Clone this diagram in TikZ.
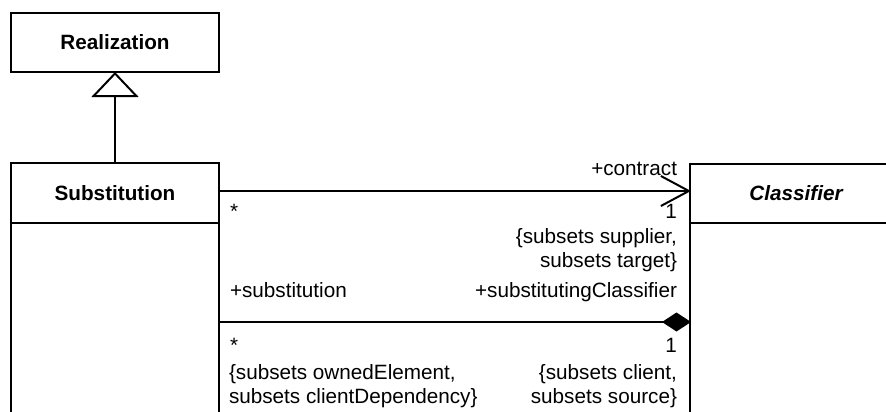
\documentclass[tikz,border=0pt]{standalone}
\usepackage{fontspec}
\setmainfont{Liberation Sans}
\usetikzlibrary{arrows.meta}
\begin{document}
\begin{tikzpicture}[x=1pt,y=-1pt,
  every node/.style={inner sep=0pt, outer sep=0pt},
  box/.style={draw, line width=2pt, rectangle, font=\fontsize{20.7}{24}\selectfont\bfseries},
  edge/.style={line width=2pt},
  lbl/.style={font=\fontsize{20.7}{24}\selectfont, align=left},
  rlbl/.style={font=\fontsize{20.7}{24}\selectfont, align=right},
  gen/.style={edge, -{Triangle[open, length=25pt, width=47pt, fill=white]}},
  navig/.style={edge, -{Straight Barb[length=28pt, width=30pt]}},
  compos/.style={edge, -{Diamond[length=29pt, width=19pt]}}
]
\useasboundingbox (0,0) rectangle (886,412);
\clip (0,0) rectangle (886,412);

% classes
\node[box, minimum width=208pt, minimum height=59pt] (real) at (115,42.5) {Realization};
\node[box, minimum width=208pt, minimum height=60pt] (subst) at (115,193) {Substitution};
\node[box, minimum width=212pt, minimum height=59pt] (clsf) at (796,193.5) {\itshape Classifier};

% class bodies (continue beyond the picture)
\coordinate (sbl) at (11,430);
\coordinate (sbr) at (219,430);
\coordinate (cbl) at (690,430);
\draw[edge] (subst.south west) -- (sbl);
\draw[edge] (subst.south east) -- (sbr);
\draw[edge] (clsf.south west) -- (cbl);

% generalization
\draw[gen] (subst.north) -- (real.south);

% association ends
\coordinate (a1) at (219,191);
\coordinate (b1) at (691,191);
\coordinate (a2) at (219,322);
\coordinate (b2) at (691,322);
\draw[navig] (a1) -- (b1);
\draw[compos] (a2) -- (b2);

% labels of the upper association
\node[rlbl, anchor=base east] (l1) at (677,175) {+contract};
\node[lbl, anchor=base west] (l2) at (230,218) {*};
\node[rlbl, anchor=base east] (l3) at (677,218) {1};
\node[rlbl, anchor=base east] (l4) at (677,243) {\{subsets supplier,};
\node[rlbl, anchor=base east] (l5) at (677,267) {subsets target\}};

% labels of the lower association
\node[lbl, anchor=base west] (m1) at (230,297) {+substitution};
\node[rlbl, anchor=base east] (m2) at (677,297) {+substitutingClassifier};
\node[lbl, anchor=base west] (m3) at (230,352) {*};
\node[rlbl, anchor=base east] (m4) at (677,352) {1};
\node[lbl, anchor=base west] (m5) at (229,379) {\{subsets ownedElement,};
\node[lbl, anchor=base west] (m6) at (229,403) {subsets clientDependency\}};
\node[rlbl, anchor=base east] (m7) at (677,379) {\{subsets client,};
\node[rlbl, anchor=base east] (m8) at (677,403) {subsets source\}};
\end{tikzpicture}
\end{document}
